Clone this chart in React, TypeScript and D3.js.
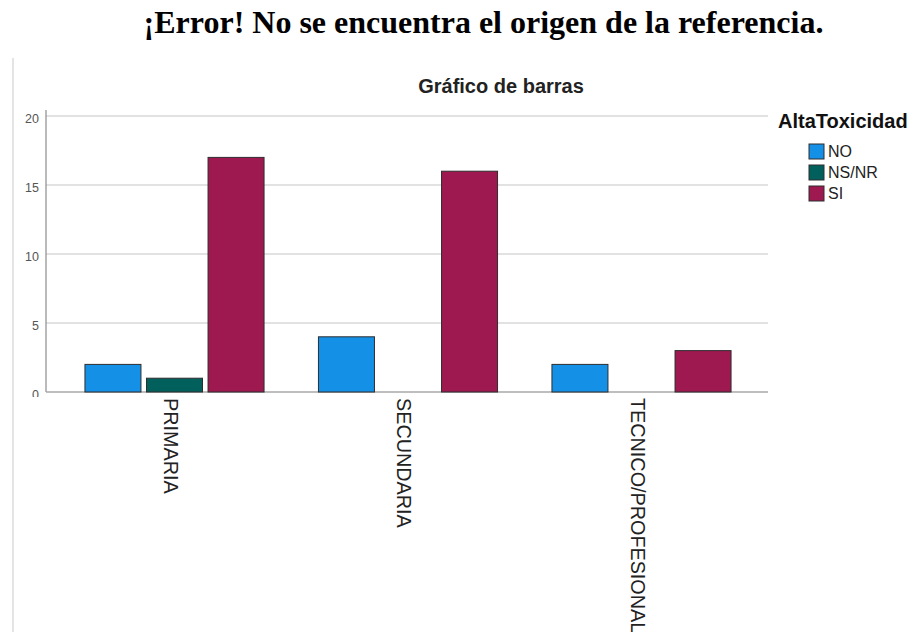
import React, { useEffect, useRef } from "react";
import * as d3 from "d3";

const categories = ["PRIMARIA", "SECUNDARIA", "TECNICO/PROFESIONAL"];
const series = ["NO", "NS/NR", "SI"];
const colors = ["#1490e6", "#015f5c", "#9e1950"];
// counts per category, in the order of `series` (null = no bar)
const valuesNO = [2, 4, 2];
const valuesNSNR = [1, null, null];
const valuesSI = [17, 16, 3];
const yTicks = [0, 5, 10, 15, 20];

const W = 911;
const H = 632;

const App = () => {
	const svgRef = useRef<SVGSVGElement>(null);

	useEffect(() => {
		const svg = d3.select(svgRef.current);
		svg.selectAll("*").remove();

		const plot = { left: 46, right: 768, top: 110, bottom: 392 };
		const rows = categories.map((c, i) => ({
			cat: c,
			vals: [valuesNO[i], valuesNSNR[i], valuesSI[i]],
		}));

		// page heading (word document caption)
		svg.append("text")
			.attr("x", 483.5)
			.attr("y", 33)
			.attr("text-anchor", "middle")
			.style("font-family", "'Liberation Serif', 'Times New Roman', serif")
			.style("font-weight", "bold")
			.style("font-size", "32px")
			.text("¡Error! No se encuentra el origen de la referencia.");

		// chart frame left edge
		svg.append("line")
			.attr("x1", 13).attr("x2", 13)
			.attr("y1", 58).attr("y2", H)
			.style("stroke", "#e4e4e4")
			.style("stroke-width", 2);

		const y = d3.scaleLinear().domain([0, 20]).range([plot.bottom, 116]);
		const x = d3.scaleBand().domain(categories).range([57.75, 758.25])
			.paddingInner(0.233).paddingOuter(0.1165);
		const xs = d3.scaleBand().domain(series).range([0, x.bandwidth()])
			.paddingInner(0.09).paddingOuter(0);

		// gridlines
		svg.append("g")
			.selectAll("line")
			.data(yTicks.filter((t) => t > 0))
			.join("line")
			.attr("x1", plot.left).attr("x2", plot.right)
			.attr("y1", (d) => y(d)).attr("y2", (d) => y(d))
			.style("stroke", "#d8d8d8")
			.style("stroke-width", 1.5);

		// y axis line + baseline
		svg.append("line")
			.attr("x1", plot.left).attr("x2", plot.left)
			.attr("y1", plot.top).attr("y2", plot.bottom)
			.style("stroke", "#8c8c8c")
			.style("stroke-width", 1.2);
		svg.append("line")
			.attr("x1", plot.left).attr("x2", plot.right)
			.attr("y1", plot.bottom).attr("y2", plot.bottom)
			.style("stroke", "#a8a8a8")
			.style("stroke-width", 1.5);

		// tick labels
		svg.append("clipPath").attr("id", "tickclip")
			.append("rect").attr("x", 0).attr("y", 0).attr("width", 46).attr("height", 397);
		svg.append("g")
			.attr("clip-path", "url(#tickclip)")
			.selectAll("text")
			.data(yTicks)
			.join("text")
			.attr("x", 39)
			.attr("y", (d) => y(d) + 3)
			.attr("dy", "0.35em")
			.attr("text-anchor", "end")
			.style("font-family", "'Liberation Sans', Arial, sans-serif")
			.style("font-size", "12.5px")
			.style("fill", "#555")
			.text((d) => d);

		// bars
		const groups = svg.append("g")
			.selectAll("g")
			.data(rows)
			.join("g")
			.attr("transform", (d) => `translate(${x(d.cat)},0)`);
		groups.selectAll("rect")
			.data((d) => d.vals.map((v, i) => ({ key: series[i], v, i })).filter((e) => e.v != null))
			.join("rect")
			.attr("x", (d) => xs(d.key))
			.attr("width", xs.bandwidth())
			.attr("y", (d) => y(d.v))
			.attr("height", (d) => plot.bottom - y(d.v))
			.style("fill", (d) => colors[d.i])
			.style("stroke", "#2e2e2e")
			.style("stroke-width", 1);

		// category labels, rotated
		svg.append("g")
			.selectAll("text")
			.data(categories)
			.join("text")
			.attr("transform", (d) => `translate(${x(d) + x.bandwidth() / 2 - 4},398) rotate(90)`)
			.attr("dy", "0.35em")
			.style("font-family", "'Liberation Sans', Arial, sans-serif")
			.style("font-size", "19.8px")
			.style("fill", "#222")
			.text((d) => d);

		// chart title
		svg.append("text")
			.attr("x", 501)
			.attr("y", 93)
			.attr("text-anchor", "middle")
			.style("font-family", "'Liberation Sans', Arial, sans-serif")
			.style("font-weight", "bold")
			.style("font-size", "20px")
			.style("fill", "#222")
			.text("Gráfico de barras");

		// legend
		const legend = svg.append("g");
		legend.append("text")
			.attr("x", 778)
			.attr("y", 128)
			.style("font-family", "'Liberation Sans', Arial, sans-serif")
			.style("font-weight", "bold")
			.style("font-size", "20px")
			.style("fill", "#111")
			.text("AltaToxicidad");
		const items = legend.selectAll("g.item")
			.data(series)
			.join("g")
			.attr("class", "item")
			.attr("transform", (d, i) => `translate(809,${144 + i * 21})`);
		items.append("rect")
			.attr("width", 15).attr("height", 15)
			.style("fill", (d, i) => colors[i])
			.style("stroke", "#2e2e2e")
			.style("stroke-width", 1);
		items.append("text")
			.attr("x", 19)
			.attr("y", 7.5)
			.attr("dy", "0.35em")
			.style("font-family", "'Liberation Sans', Arial, sans-serif")
			.style("font-size", "16px")
			.style("fill", "#222")
			.text((d) => d);
	}, []);

	return (
		<div style={{ position: "absolute", left: 0, top: 0, width: W, height: H, background: "#fff" }}>
			<svg ref={svgRef} width={W} height={H}></svg>
		</div>
	);
};

export default App;
